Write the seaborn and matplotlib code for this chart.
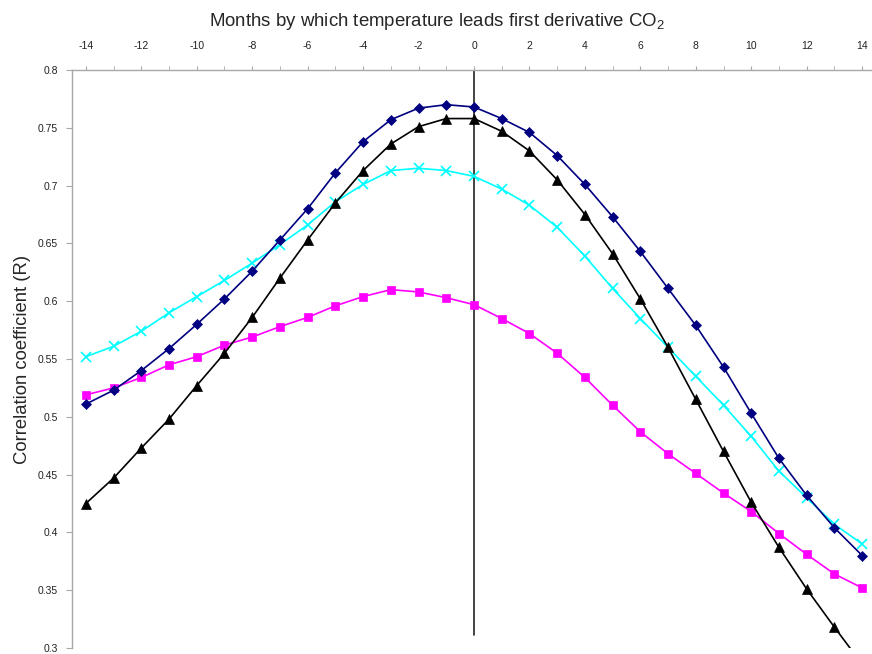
import matplotlib
matplotlib.use("Agg")
import matplotlib.pyplot as plt
import seaborn as sns
import pandas as pd

months = list(range(-14, 15))

navy_diamond = [0.511, 0.523, 0.540, 0.559, 0.580, 0.602, 0.626, 0.653, 0.680, 0.711,
                0.738, 0.757, 0.767, 0.770, 0.768, 0.758, 0.746, 0.726, 0.701, 0.673,
                0.643, 0.611, 0.579, 0.543, 0.503, 0.464, 0.432, 0.404, 0.380]
black_triangle = [0.425, 0.447, 0.473, 0.498, 0.527, 0.555, 0.586, 0.620, 0.653, 0.685,
                  0.713, 0.736, 0.751, 0.758, 0.758, 0.747, 0.730, 0.705, 0.675, 0.641,
                  0.602, 0.560, 0.515, 0.470, 0.426, 0.387, 0.351, 0.318, 0.286]
cyan_x = [0.552, 0.561, 0.574, 0.590, 0.604, 0.618, 0.633, 0.649, 0.666, 0.686,
          0.701, 0.713, 0.715, 0.713, 0.708, 0.697, 0.683, 0.664, 0.639, 0.611,
          0.585, 0.560, 0.535, 0.510, 0.483, 0.453, 0.430, 0.407, 0.390]
magenta_square = [0.519, 0.525, 0.534, 0.545, 0.552, 0.562, 0.569, 0.578, 0.586, 0.596,
                  0.604, 0.610, 0.608, 0.603, 0.597, 0.585, 0.572, 0.555, 0.534, 0.510,
                  0.487, 0.468, 0.451, 0.434, 0.418, 0.399, 0.381, 0.364, 0.352]

x_tick_labels = [str(v) for v in range(-14, 15, 2)]
y_ticks = [0.3, 0.35, 0.4, 0.45, 0.5, 0.55, 0.6, 0.65, 0.7, 0.75, 0.8]
y_tick_labels = ["0.3", "0.35", "0.4", "0.45", "0.5", "0.55", "0.6", "0.65", "0.7", "0.75", "0.8"]

sns.set_style("white")
plt.rcParams['font.family'] = ['Liberation Sans', 'DejaVu Sans']
plt.rcParams['mathtext.fontset'] = 'custom'
plt.rcParams['mathtext.rm'] = 'Liberation Sans'

fig = plt.figure(figsize=(8.72, 6.54), dpi=100)
ax = fig.add_axes([72/872, 1 - 648/654, (876 - 72)/872, (648 - 70)/654])

series = [
    (cyan_x, "#00FFFF", "x", 7, 1.2),
    (magenta_square, "#FF00FF", "s", 6, 1.2),
    (black_triangle, "#000000", "^", 7, 1.2),
    (navy_diamond, "#000080", "D", 5, 1.2),
]
for vals, color, marker, ms, lw in series:
    df = pd.DataFrame({"m": months, "r": vals})
    sns.lineplot(data=df, x="m", y="r", ax=ax, color=color, marker=marker,
                 markersize=ms, linewidth=lw, markeredgecolor=color,
                 markeredgewidth=1.2 if marker == "x" else 0.5, clip_on=True)

ax.axvline(0, ymin=(0.311 - 0.3) / 0.5, ymax=1, color="#222222", linewidth=1.2, zorder=1)

ax.set_xlim(-14.5, 14.5)
ax.set_ylim(0.3, 0.8)
ax.xaxis.tick_top()
ax.set_xticks(list(range(-14, 15, 2)))
ax.set_xticklabels(x_tick_labels, fontsize=7.5)
ax.set_xticks(months, minor=True)
ax.set_yticks(y_ticks)
ax.set_yticklabels(y_tick_labels, fontsize=7.5)

for s in ["bottom", "right"]:
    ax.spines[s].set_visible(False)
for s in ["top", "left"]:
    ax.spines[s].set_color("#a8a8a8")
    ax.spines[s].set_linewidth(1.0)

ax.tick_params(axis="x", which="both", direction="out", length=3, color="#a8a8a8",
               top=True, bottom=False, pad=11, labelcolor="#222222")
ax.tick_params(axis="y", which="major", direction="out", length=4, color="#a8a8a8",
               left=True, pad=6, labelcolor="#222222")

ax.set_xlabel("")
ax.set_ylabel("Correlation coefficient (R)", fontsize=13.3, labelpad=5)
fig.text(0.501, 1 - 21/654, r"Months by which temperature leads first derivative CO$_2$",
         ha="center", va="center", fontsize=13.4)

fig.savefig("out.png", dpi=100)
